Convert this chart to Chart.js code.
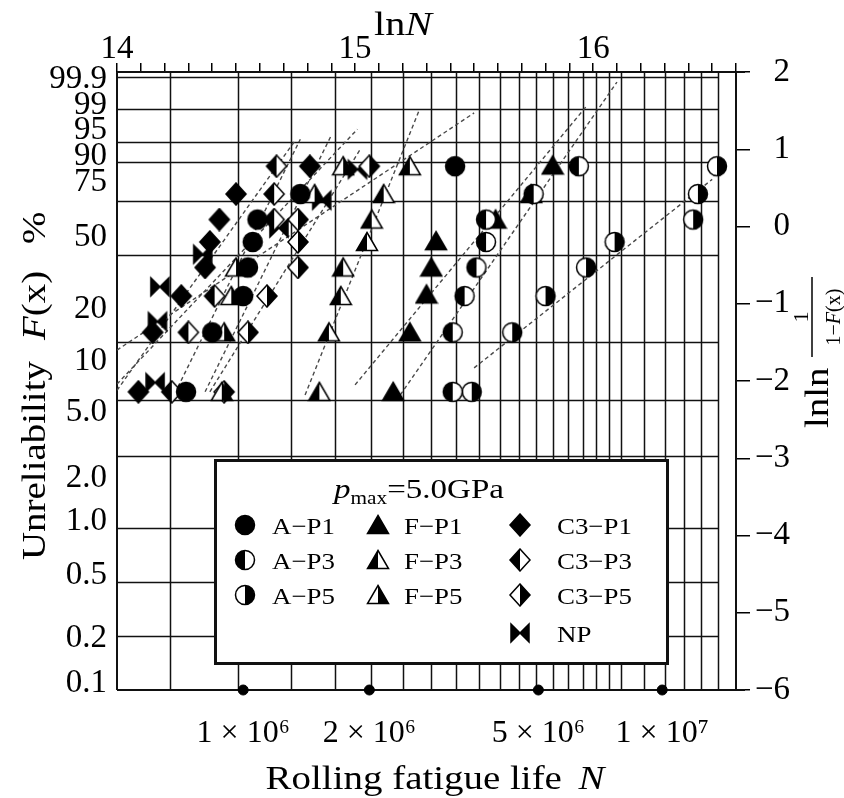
<!DOCTYPE html>
<html>
<head>
<meta charset="utf-8">
<title>Rolling fatigue life - Weibull plot</title>
<script src="https://cdn.jsdelivr.net/npm/chart.js@4.4.1/dist/chart.umd.min.js"></script>
<style>
  html, body { margin: 0; padding: 0; background: #fff; }
  #wrap { width: 844px; height: 798px; }
</style>
</head>
<body>
<div id="wrap"><canvas id="weibull" width="844" height="798"></canvas></div>
<script>
// failures: x = lnN, y = lnln(1/(1-F))
const aP1LnN = [14.29, 14.40, 14.53, 14.55, 14.57, 14.59, 14.77, 15.42];
const aP1Y   = [-2.14, -1.37, -0.90, -0.53, -0.20, 0.09, 0.42, 0.78];
const aP3LnN = [15.41, 15.41, 15.46, 15.51, 15.55, 15.55, 15.75, 15.94];
const aP3Y   = [-2.14, -1.37, -0.90, -0.53, -0.20, 0.09, 0.42, 0.78];
const aP5LnN = [15.49, 15.66, 15.80, 15.97, 16.09, 16.42, 16.44, 16.52];
const aP5Y   = [-2.14, -1.37, -0.90, -0.53, -0.20, 0.09, 0.42, 0.78];
const fP1LnN = [15.16, 15.23, 15.30, 15.32, 15.34, 15.59, 15.74, 15.83];
const fP1Y   = [-2.14, -1.37, -0.88, -0.53, -0.19, 0.09, 0.42, 0.79];
const fP3LnN = [14.85, 14.89, 14.94, 14.95, 15.05, 15.07, 15.12, 15.23];
const fP3Y   = [-2.14, -1.37, -0.90, -0.53, -0.20, 0.09, 0.42, 0.78];
const fP5LnN = [14.44, 14.45, 14.48, 14.50, 14.83, 14.95];
const fP5Y   = [-2.14, -1.37, -0.90, -0.53, 0.42, 0.78];
const c3P1LnN = [14.09, 14.15, 14.27, 14.37, 14.39, 14.43, 14.50, 14.81];
const c3P1Y   = [-2.14, -1.37, -0.90, -0.53, -0.20, 0.09, 0.42, 0.78];
const c3P3LnN = [14.23, 14.30, 14.41, 14.66, 14.66, 14.67];
const c3P3Y   = [-2.14, -1.37, -0.90, 0.09, 0.42, 0.78];
const c3P5LnN = [14.45, 14.55, 14.63, 14.76, 14.76, 14.76, 15.06];
const c3P5Y   = [-2.14, -1.37, -0.90, -0.53, -0.20, 0.09, 0.78];
const npLnN = [14.16, 14.17, 14.18, 14.36, 14.68, 14.86, 15.01];
const npY   = [-2.02, -1.23, -0.78, -0.36, -0.02, 0.34, 0.74];

// dashed fit lines, order A-P1, A-P3, A-P5, F-P1, F-P3, F-P5, C3-P1, C3-P3, C3-P5, NP
const fitX0 = [14.00, 15.19, 15.50, 15.00, 14.79, 14.37, 14.00, 14.23, 14.39, 14.00];
const fitY0 = [-1.60, -2.18, -1.83, -2.05, -2.18, -2.14, -2.12, -2.24, -2.14, -2.04];
const fitX1 = [15.50, 16.10, 16.50, 15.97, 15.27, 14.90, 14.75, 14.77, 15.02, 15.01];
const fitY1 = [1.47, 1.87, 0.61, 1.55, 1.51, 1.18, 1.12, 1.13, 0.99, 1.26];

// axes
const topLabels = [14, 15, 16];
const gridN = [1.5, 2, 2.5, 3, 3.5, 4, 4.5, 5, 5.5, 6, 6.5, 7, 7.5, 8, 8.5, 9, 9.5, 10, 11, 12, 13, 14, 15]; // x10^6
const gridF = [99.9, 99, 95, 90, 75, 50, 20, 10, 5, 2, 1, 0.5]; // %
const leftTickLabels = ['99.9', '99', '95', '90', '75', '50', '20', '10', '5.0', '2.0', '1.0', '0.5', '0.2', '0.1'];
const leftTickPos = [1.91, 1.57, 1.25, 0.91, 0.57, -0.14, -1.07, -1.75, -2.41, -3.26, -3.82, -4.51, -5.33, -5.91];
const bottomLabels = ['1 \u00d7 10\u2076', '2 \u00d7 10\u2076', '5 \u00d7 10\u2076', '1 \u00d7 10\u2077'];
const bottomLabelPos = [14.53, 15.06, 15.77, 16.29];

const SERIF = '"Liberation Serif", "Times New Roman", serif';
const STRETCH = 1.18; // the titles are set in a wide face

function makeMarker(shape, half) {
    const c = document.createElement('canvas');
    c.width = 24; c.height = 24;
    const g = c.getContext('2d');
    const path = () => {
        g.beginPath();
        if (shape === 'circle') {
            g.arc(12, 12, 9.5, 0, Math.PI * 2);
        } else if (shape === 'triangle') {
            g.moveTo(12, 2.5); g.lineTo(22.5, 20.5); g.lineTo(1.5, 20.5); g.closePath();
        } else if (shape === 'diamond') {
            g.moveTo(12, 1); g.lineTo(22, 12); g.lineTo(12, 23); g.lineTo(2, 12); g.closePath();
        } else {
            g.moveTo(3, 3); g.lineTo(12, 12); g.lineTo(3, 21); g.closePath();
            g.moveTo(21, 3); g.lineTo(12, 12); g.lineTo(21, 21); g.closePath();
        }
    };
    g.lineWidth = 1.5;
    g.strokeStyle = '#000';
    path();
    if (half === 'full') {
        g.fillStyle = '#000';
        g.fill();
    } else {
        g.fillStyle = '#fff';
        g.fill();
        g.save();
        g.beginPath();
        if (half === 'left') g.rect(0, 0, 12, 24); else g.rect(12, 0, 12, 24);
        g.clip();
        path();
        g.fillStyle = '#000';
        g.fill();
        g.restore();
    }
    path();
    g.stroke();
    return c;
}

const series = [
    { label: 'A\u2212P1', x: aP1LnN, y: aP1Y, marker: makeMarker('circle', 'full') },
    { label: 'A\u2212P3', x: aP3LnN, y: aP3Y, marker: makeMarker('circle', 'left') },
    { label: 'A\u2212P5', x: aP5LnN, y: aP5Y, marker: makeMarker('circle', 'right') },
    { label: 'F\u2212P1', x: fP1LnN, y: fP1Y, marker: makeMarker('triangle', 'full') },
    { label: 'F\u2212P3', x: fP3LnN, y: fP3Y, marker: makeMarker('triangle', 'left') },
    { label: 'F\u2212P5', x: fP5LnN, y: fP5Y, marker: makeMarker('triangle', 'right') },
    { label: 'C3\u2212P1', x: c3P1LnN, y: c3P1Y, marker: makeMarker('diamond', 'full') },
    { label: 'C3\u2212P3', x: c3P3LnN, y: c3P3Y, marker: makeMarker('diamond', 'left') },
    { label: 'C3\u2212P5', x: c3P5LnN, y: c3P5Y, marker: makeMarker('diamond', 'right') },
    { label: 'NP', x: npLnN, y: npY, marker: makeMarker('bowtie', 'full') }
];

const pointSets = series.map(s => ({
    type: 'scatter',
    label: s.label,
    data: s.x.map((v, i) => ({ x: v, y: s.y[i] })),
    pointStyle: s.marker,
    pointRadius: 10,
    pointHoverRadius: 10,
    order: 0
}));

const fitSets = series.map((s, i) => ({
    type: 'line',
    label: s.label + ' fit',
    data: [{ x: fitX0[i], y: fitY0[i] }, { x: fitX1[i], y: fitY1[i] }],
    borderColor: '#4a4a4a',
    borderWidth: 1.4,
    borderDash: [4, 3],
    pointRadius: 0,
    fill: false,
    order: 1
}));

const axisDots = {
    type: 'scatter',
    label: 'axis dots',
    data: bottomLabelPos.map(v => ({ x: v, y: -6 })),
    pointStyle: 'circle',
    pointRadius: 5,
    backgroundColor: '#000',
    borderColor: '#000',
    clip: false,
    order: 0
};

const lnlnOf = f => Math.log(-Math.log(1 - f / 100));

// text made of runs with their own fonts
function runsWidth(ctx, runs) {
    let w = 0;
    runs.forEach(r => { ctx.font = r.font; w += ctx.measureText(r.t).width + (r.gap || 0); });
    return w;
}
function drawRuns(ctx, runs, x, y) {
    runs.forEach(r => {
        ctx.font = r.font;
        x += (r.gap || 0);
        ctx.fillText(r.t, x, y + (r.dy || 0));
        x += ctx.measureText(r.t).width;
    });
}
// centred at (cx, y), widened by STRETCH
function drawRunsWide(ctx, runs, cx, y) {
    ctx.save();
    ctx.translate(cx, y);
    ctx.scale(STRETCH, 1);
    drawRuns(ctx, runs, -runsWidth(ctx, runs) / 2, 0);
    ctx.restore();
}

const gridPlugin = {
    id: 'weibullGrid',
    beforeDatasetsDraw(chart) {
        const { ctx, chartArea: a, scales: { x, y } } = chart;
        ctx.save();
        ctx.strokeStyle = '#111';
        ctx.lineWidth = 1.5;
        const right = x.getPixelForValue(Math.log(15e6));
        ctx.beginPath();
        gridN.forEach(n => {
            const px = Math.round(x.getPixelForValue(Math.log(n * 1e6))) + 0.5;
            ctx.moveTo(px, a.top); ctx.lineTo(px, a.bottom);
        });
        gridF.forEach(f => {
            const py = Math.round(y.getPixelForValue(lnlnOf(f))) + 0.5;
            ctx.moveTo(a.left, py); ctx.lineTo(right, py);
        });
        ctx.stroke();
        // frame
        ctx.lineWidth = 2;
        ctx.beginPath();
        ctx.moveTo(a.left, a.top); ctx.lineTo(a.right + 9, a.top);
        ctx.moveTo(a.left, a.bottom); ctx.lineTo(a.right + 9, a.bottom);
        ctx.moveTo(a.left, a.top); ctx.lineTo(a.left, a.bottom);
        ctx.moveTo(a.right, a.top); ctx.lineTo(a.right, a.bottom);
        ctx.stroke();
        ctx.restore();
    }
};

const textPlugin = {
    id: 'weibullText',
    afterDraw(chart) {
        const ctx = chart.ctx;
        ctx.save();
        ctx.fillStyle = '#000';
        ctx.textBaseline = 'alphabetic';
        ctx.textAlign = 'left';

        // top title lnN
        drawRunsWide(ctx, [{ t: 'ln', font: `34px ${SERIF}` }, { t: 'N', font: `italic 34px ${SERIF}` }], 403, 35);

        // bottom title
        drawRunsWide(ctx, [
            { t: 'Rolling fatigue life', font: `33px ${SERIF}` },
            { t: 'N', font: `italic 33px ${SERIF}`, gap: 14 }
        ], 435, 789);

        // left title, rotated
        ctx.save();
        ctx.translate(45, 560);
        ctx.rotate(-Math.PI / 2);
        ctx.scale(STRETCH, 1);
        drawRuns(ctx, [{ t: 'Unreliability', font: `33px ${SERIF}` }], 0, 0);
        drawRuns(ctx, [{ t: 'F', font: `italic 33px ${SERIF}` }, { t: '(x)', font: `33px ${SERIF}` }], 220 / STRETCH, 0);
        drawRuns(ctx, [{ t: '%', font: `33px ${SERIF}` }], 316 / STRETCH, 0);
        ctx.restore();

        // right title, rotated: lnln 1/(1-F(x))
        ctx.save();
        ctx.translate(828, 428);
        ctx.rotate(-Math.PI / 2);
        ctx.save();
        ctx.scale(STRETCH, 1);
        drawRuns(ctx, [{ t: 'lnln', font: `33px ${SERIF}` }], 0, 0);
        ctx.restore();
        ctx.lineWidth = 1.5;
        ctx.strokeStyle = '#000';
        ctx.beginPath();
        ctx.moveTo(71, -16); ctx.lineTo(151, -16);
        ctx.stroke();
        let runs = [{ t: '1', font: `22px ${SERIF}` }];
        drawRuns(ctx, runs, 111 - runsWidth(ctx, runs) / 2, -20);
        runs = [{ t: '1\u2212', font: `20px ${SERIF}` }, { t: 'F', font: `italic 20px ${SERIF}` }, { t: '(x)', font: `20px ${SERIF}` }];
        drawRuns(ctx, runs, 111 - runsWidth(ctx, runs) / 2, 12);
        ctx.restore();

        // legend box
        ctx.fillStyle = '#fff';
        ctx.fillRect(214, 459, 455, 206);
        ctx.lineWidth = 3;
        ctx.strokeStyle = '#111';
        ctx.strokeRect(215.5, 460.5, 452, 203);
        ctx.fillStyle = '#000';
        drawRunsWide(ctx, [
            { t: 'p', font: `italic 28px ${SERIF}` },
            { t: 'max', font: `18px ${SERIF}`, dy: 6 },
            { t: '=5.0GPa', font: `28px ${SERIF}` }
        ], 419, 498);
        const colMarker = [245, 378, 520];
        const colText = [272, 404, 557];
        const rowY = [525, 560, 595, 633];
        series.forEach((s, i) => {
            const col = Math.min(2, Math.floor(i / 3));
            const row = i - col * 3;
            const m = s.marker;
            ctx.drawImage(m, colMarker[col] - m.width / 2, rowY[row] - m.height / 2);
            ctx.save();
            ctx.translate(colText[col], rowY[row] + 9);
            ctx.scale(1.12, 1);
            ctx.font = `24px ${SERIF}`;
            ctx.fillText(s.label, 0, 0);
            ctx.restore();
        });
        ctx.restore();
    }
};

const topTicks = [];
for (let k = 0; k <= 26; k++) topTicks.push(14 + k / 10);

new Chart(document.getElementById('weibull'), {
    type: 'scatter',
    data: { datasets: [...pointSets, axisDots, ...fitSets] },
    options: {
        responsive: false,
        animation: false,
        devicePixelRatio: 1,
        layout: { padding: { left: 0, top: 0, bottom: 0, right: 54 } },
        plugins: { legend: { display: false }, tooltip: { enabled: false } },
        scales: {
            x: {
                type: 'linear', position: 'top', min: 14, max: 16.6,
                afterBuildTicks: s => { s.ticks = topTicks.map(v => ({ value: v })); },
                afterFit: s => { s.height = 72; },
                ticks: {
                    autoSkip: false, maxRotation: 0, padding: -3, color: '#000',
                    font: { family: SERIF, size: 33, lineHeight: 1 },
                    callback: v => {
                        const r = Math.round(v);
                        return Math.abs(v - r) < 1e-6 && topLabels.includes(r) ? String(r) : '';
                    }
                },
                grid: { drawOnChartArea: false, drawTicks: true, tickLength: 9, color: '#000', lineWidth: 1.5 },
                border: { display: false }
            },
            x2: {
                type: 'linear', position: 'bottom', min: 14, max: 16.6,
                afterBuildTicks: s => { s.ticks = bottomLabelPos.map(v => ({ value: v })); },
                afterFit: s => { s.height = 108; },
                ticks: {
                    autoSkip: false, maxRotation: 0, padding: 24, color: '#000',
                    font: { family: SERIF, size: 32 },
                    callback: (v, i) => bottomLabels[i]
                },
                grid: { display: false, drawTicks: false },
                border: { display: false }
            },
            y: {
                type: 'linear', position: 'right', min: -6, max: 2,
                afterFit: s => { s.width = 54; },
                ticks: {
                    stepSize: 1, crossAlign: 'far', padding: 2, color: '#000',
                    font: { family: SERIF, size: 33 },
                    callback: v => (v < 0 ? '\u2212' + (-v) : String(v))
                },
                grid: { drawOnChartArea: false, drawTicks: true, tickLength: 14, color: '#000', lineWidth: 1.5 },
                border: { display: false }
            },
            yL: {
                type: 'linear', position: 'left', min: -6, max: 2,
                afterBuildTicks: s => { s.ticks = leftTickPos.map(v => ({ value: v })); },
                afterFit: s => { s.width = 117; },
                ticks: {
                    autoSkip: false, padding: 10, color: '#000',
                    font: { family: SERIF, size: 33 },
                    callback: (v, i) => leftTickLabels[i]
                },
                grid: { display: false, drawTicks: false },
                border: { display: false }
            }
        }
    },
    plugins: [gridPlugin, textPlugin]
});
</script>
</body>
</html>
